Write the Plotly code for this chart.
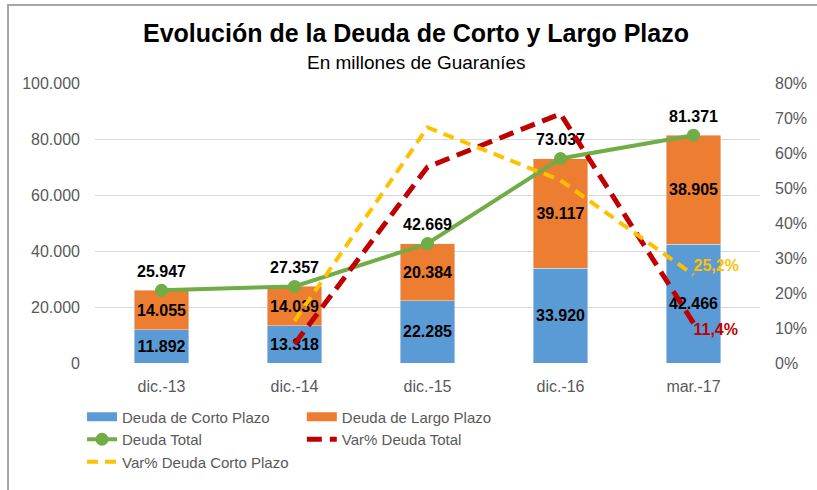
import plotly.graph_objects as go

periodos = ["dic.-13", "dic.-14", "dic.-15", "dic.-16", "mar.-17"]
deuda_corto = [11892, 13318, 22285, 33920, 42466]
deuda_largo = [14055, 14039, 20384, 39117, 38905]
deuda_total = [25947, 27357, 42669, 73037, 81371]
var_total = [None, 5.4, 56.0, 71.2, 11.4]
var_corto = [None, 12.0, 67.3, 52.2, 25.2]

FONT = "Liberation Sans"
GRIS = "#595959"
AZUL = "#5B9BD5"
NARANJA = "#ED7D31"
VERDE = "#70AD47"
ROJO = "#C00000"
AMARILLO = "#FFC000"

etiqueta = dict(family=FONT, size=16, color="black", weight="bold")

fig = go.Figure()

fig.add_bar(
    x=periodos, y=deuda_corto, name="Deuda de Corto Plazo", showlegend=False,
    marker_color=AZUL, texttemplate="%{y:,.0f}", textposition="inside",
    insidetextanchor="middle", constraintext="none", textangle=0,
    textfont=etiqueta,
)
fig.add_bar(
    x=periodos, y=deuda_largo, name="Deuda de Largo Plazo", showlegend=False,
    marker_color=NARANJA, texttemplate="%{y:,.0f}", textposition="inside",
    insidetextanchor="middle", constraintext="none", textangle=0,
    textfont=etiqueta,
)
fig.add_scatter(
    x=periodos, y=deuda_total, name="Deuda Total", mode="lines+markers+text",
    line=dict(color=VERDE, width=4), marker=dict(size=13, color=VERDE),
    text=[f"{v:,}".replace(",", ".") for v in deuda_total], textposition="top center",
    textfont=etiqueta, legend="legend", legendrank=2,
)
fig.add_scatter(
    x=periodos, y=var_total, name="Var% Deuda Total", mode="lines+text", yaxis="y2",
    line=dict(color=ROJO, width=5, dash="15px,8px"),
    text=["", "", "", "", "11,4%"], textposition="bottom right",
    textfont=dict(family=FONT, size=16, color=ROJO, weight="bold"),
    legend="legend2", legendrank=2,
)
fig.add_scatter(
    x=periodos, y=var_corto, name="Var% Deuda Corto Plazo", mode="lines+text", yaxis="y2",
    line=dict(color=AMARILLO, width=4, dash="11px,7px"),
    text=["", "", "", "", "25,2%"], textposition="top right",
    textfont=dict(family=FONT, size=16, color=AMARILLO, weight="bold"),
    legend="legend", legendrank=3,
)
# entradas de leyenda de las barras (rectángulo ancho como en Excel)
fig.add_scatter(x=[None], y=[None], mode="lines", name="Deuda de Corto Plazo",
                line=dict(color=AZUL, width=9), legend="legend", legendrank=1)
fig.add_scatter(x=[None], y=[None], mode="lines", name="Deuda de Largo Plazo",
                line=dict(color=NARANJA, width=9), legend="legend2", legendrank=1)

leyenda = dict(orientation="v", xanchor="left", y=-0.134, yanchor="top", traceorder="normal",
               font=dict(family=FONT, size=15, color=GRIS), tracegroupgap=0,
               bgcolor="rgba(0,0,0,0)")

fig.update_layout(
    width=817, height=490,
    margin=dict(l=95, r=57, t=83, b=127, autoexpand=False),
    paper_bgcolor="white", plot_bgcolor="white",
    font=dict(family=FONT, size=16, color=GRIS),
    separators=",.",
    barmode="stack", bargap=0.59,
    xaxis=dict(showgrid=False, ticks="", ticklabelstandoff=12,
               tickfont=dict(size=16, color=GRIS)),
    yaxis=dict(range=[0, 100000], dtick=20000, tickformat=",.0f", ticklabelstandoff=14,
               gridcolor="#D9D9D9", gridwidth=1, zeroline=False,
               tickfont=dict(size=16, color=GRIS)),
    yaxis2=dict(range=[0, 80], dtick=10, ticksuffix="%", overlaying="y", side="right",
                ticklabelstandoff=14, showgrid=False, zeroline=False,
                tickfont=dict(size=16, color=GRIS)),
    legend=dict(leyenda, x=-0.0195),
    legend2=dict(leyenda, x=0.311),
    showlegend=True,
)

fig.add_annotation(
    text="<b>Evolución de la Deuda de Corto y Largo Plazo</b>",
    xref="paper", yref="paper", x=0.483, y=1.179, yanchor="middle", showarrow=False,
    font=dict(family=FONT, size=25, color="black"),
)
fig.add_annotation(
    text="En millones de Guaraníes",
    xref="paper", yref="paper", x=0.483, y=1.075, yanchor="middle", showarrow=False,
    font=dict(family=FONT, size=19, color="black"),
)
fig.add_shape(
    type="rect", xref="paper", yref="paper",
    x0=-0.1308, x1=1.105, y0=-0.489, y1=1.2786,
    line=dict(color="#A6A6A6", width=2), fillcolor="rgba(0,0,0,0)",
)

fig.write_html("out.html", config={"displayModeBar": False},
               post_script="document.body.style.margin='0';")
